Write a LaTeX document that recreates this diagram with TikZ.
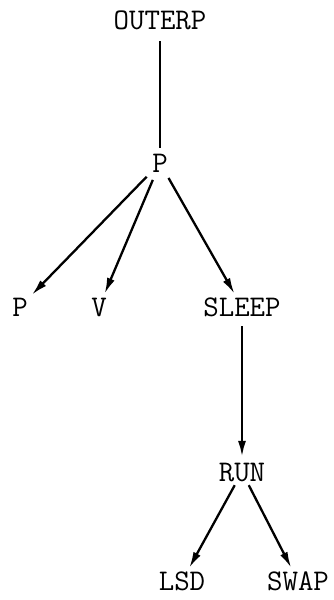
\documentclass[tikz,border=0pt]{standalone}
\usepackage{fontspec}
\setmonofont{Latin Modern Mono}
\usepackage{tikz}
\usetikzlibrary{arrows.meta,positioning}
\tikzset{label text/.style={font=\ttfamily\fontsize{30}{36}\selectfont, text height=18pt, text depth=0pt, inner sep=4pt}}

\begin{document}
\begin{tikzpicture}[x=1pt, y=-1pt, every node/.style={label text}, link/.style={line width=2.3pt, -{Latex[length=16pt,width=8pt]}}, plain/.style={line width=2.3pt}]
\useasboundingbox (0,0) rectangle (333,600);
\node (outerp) at (160,20) {OUTERP};
\node (p) at (160,163) {P};
\node (pleft) at (20,307) {P};
\node (v) at (99,307) {V};
\node (sleep) at (242,307) {SLEEP};
\node (run) at (242,472) {RUN};
\node (lsd) at (182,581) {LSD};
\node (swap) at (298,581) {SWAP};
\draw[plain, shorten <=8pt, shorten >=2pt] (outerp)--(p);
\draw[link, shorten <=2pt] (p)--(pleft);
\draw[link, shorten <=4pt] (p)--(v);
\draw[link, shorten <=2pt] (p)--(sleep);
\draw[link, shorten <=6pt, shorten >=2pt] (sleep)--(run);
\draw[link] (run)--(lsd);
\draw[link] (run)--(swap);
\end{tikzpicture}
\end{document}
